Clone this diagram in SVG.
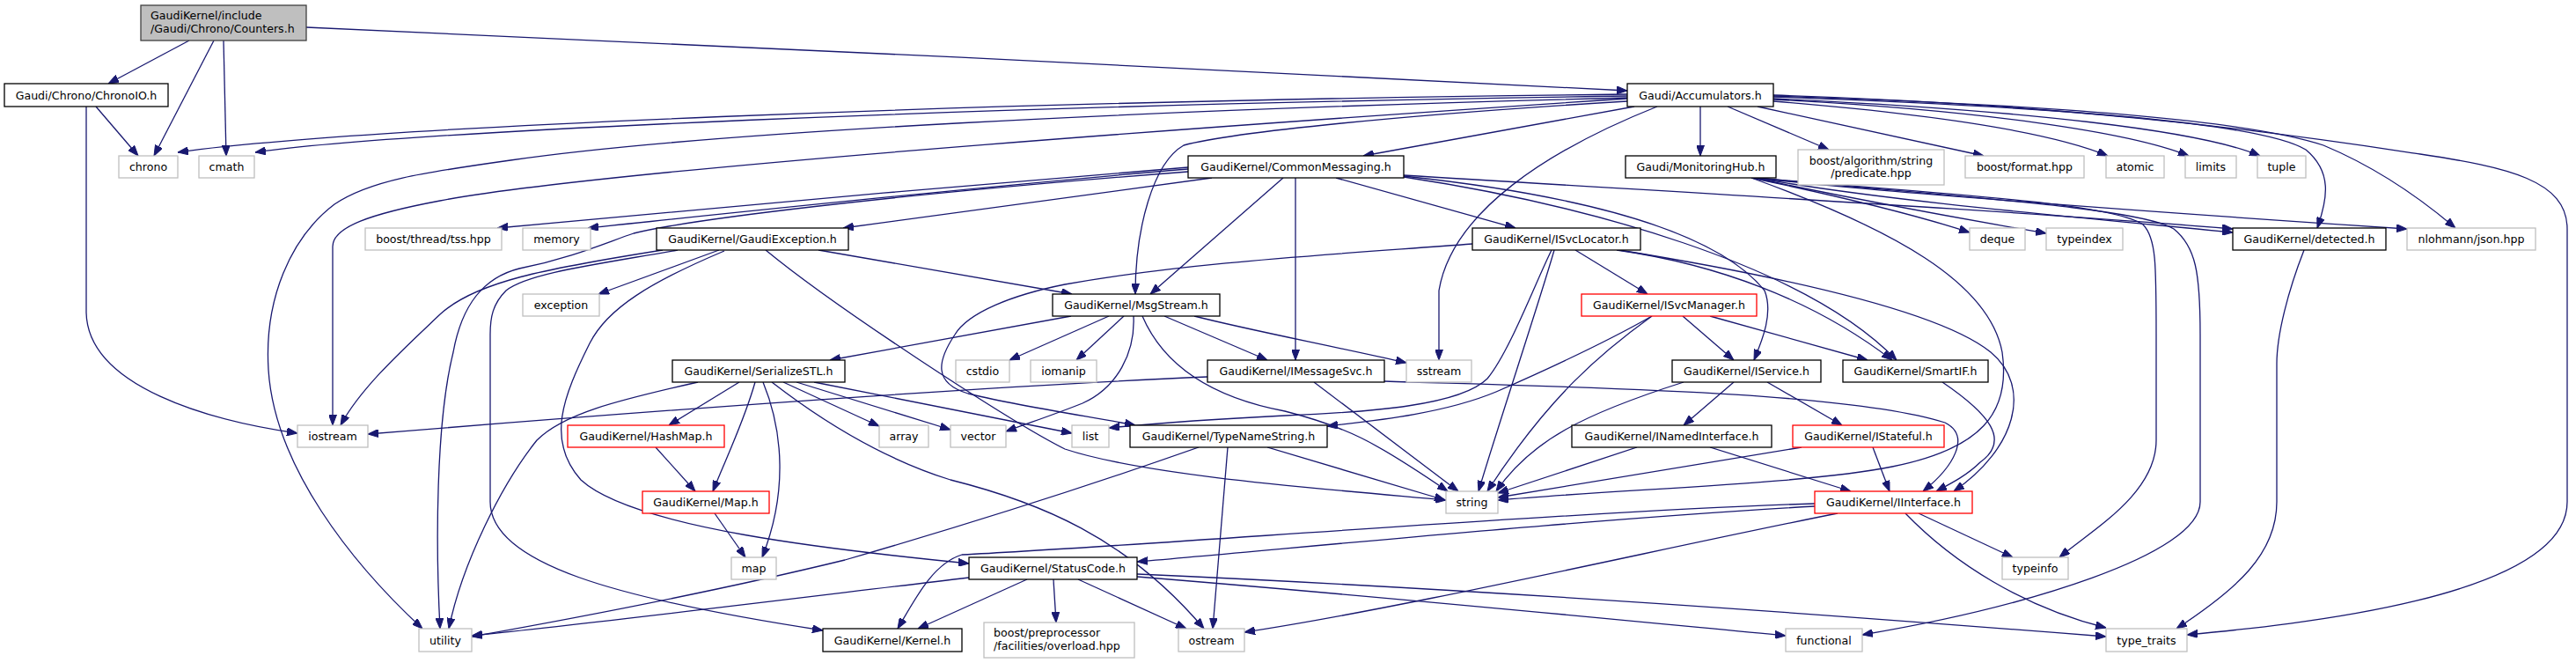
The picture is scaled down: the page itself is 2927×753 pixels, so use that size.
<svg xmlns="http://www.w3.org/2000/svg" width="2927" height="753" viewBox="0 0 2927 753">
<style>
rect{fill:#fff;stroke:#000;stroke-width:1.3}
.x rect{stroke:#bfbfbf}
.r rect{stroke:#ff0000}
.root rect{fill:#bfbfbf;stroke:#404040}
text{font-family:"DejaVu Sans",sans-serif;font-size:12.6px;fill:#000;text-anchor:middle}
text.l{text-anchor:start}
#edges path{fill:none;stroke:#191970;stroke-width:1.3;marker-end:url(#a)}
</style>
<defs>
<marker id="a" viewBox="0 0 12 9" refX="12" refY="4.5" markerWidth="12" markerHeight="9" orient="auto" markerUnits="userSpaceOnUse"><path d="M0,0 L12,4.5 L0,9 z" fill="#191970" stroke="#191970" stroke-width="1"/></marker>
</defs>
<rect x="0" y="0" width="2927" height="753" style="fill:#fff;stroke:none"/>
<g id="edges">
<path d="M215,46 L123,95"/>
<path d="M243,46 L175,177"/>
<path d="M254,46 L257,177"/>
<path d="M348,31 C800,50 1400,80 1849,103"/>
<path d="M109,121 L157,177"/>
<path d="M98,121 L98,355 C100,440 240,478 338,492"/>
<path d="M1849,107 C1100,115 400,145 202,173"/>
<path d="M1849,109 C1100,120 450,150 290,173"/>
<path d="M1849,112 C1500,135 700,190 500,228 C420,243 378,258 378,280 L378,483"/>
<path d="M1849,111 C1300,125 800,150 580,182 C480,196 420,205 380,232 C330,270 300,340 305,420 C312,530 400,640 480,714"/>
<path d="M1857,121 L1549,177"/>
<path d="M1932,121 L1932,177"/>
<path d="M1883,121 C1760,170 1650,240 1635,330 L1635,409"/>
<path d="M1849,115 C1600,130 1400,150 1345,165 C1310,185 1290,260 1290,334"/>
<path d="M1963,121 L2078,170"/>
<path d="M1997,121 L2254,177"/>
<path d="M2015,115 C2200,130 2330,150 2395,177"/>
<path d="M2015,113 C2250,125 2420,150 2487,177"/>
<path d="M2015,112 C2300,125 2500,148 2568,177"/>
<path d="M2015,110 C2350,122 2570,140 2620,170 C2650,195 2645,225 2633,259"/>
<path d="M2015,109 C2300,118 2550,135 2640,165 C2700,190 2750,225 2790,259"/>
<path d="M2015,108 C2400,120 2650,160 2750,175 C2850,190 2917,205 2917,260 L2917,570 C2917,680 2600,710 2485,721"/>
<path d="M1990,202 C2100,225 2180,245 2238,264"/>
<path d="M1992,202 C2150,235 2250,252 2325,265"/>
<path d="M1995,202 C2150,230 2400,250 2537,264"/>
<path d="M1995,202 C2100,215 2400,238 2735,260"/>
<path d="M1995,202 C2200,220 2400,230 2435,255 C2450,270 2450,300 2450,380 L2450,500 C2450,560 2380,600 2340,633"/>
<path d="M1995,202 C2200,222 2430,235 2470,260 C2495,280 2500,310 2500,380 L2500,570 C2500,630 2300,690 2116,721"/>
<path d="M1990,202 C2150,260 2260,320 2275,400 C2285,470 2250,510 2150,530 C2050,550 1850,555 1702,568"/>
<path d="M1350,190 C1100,210 800,237 565,259"/>
<path d="M1350,192 C1100,213 850,240 668,259"/>
<path d="M1350,195 C1000,222 780,250 720,265 C690,275 650,293 590,305 C550,315 525,345 515,400 C495,480 495,620 500,714"/>
<path d="M1377,202 L958,259"/>
<path d="M1458,202 L1307,334"/>
<path d="M1472,202 L1472,409"/>
<path d="M1518,202 L1722,259"/>
<path d="M1595,199 C1900,218 2300,240 2537,260"/>
<path d="M1595,200 C1800,222 1950,262 2005,330 C2015,355 2003,385 1993,409"/>
<path d="M1595,201 C1800,232 2050,300 2155,409"/>
<path d="M817,284 L680,334"/>
<path d="M930,284 L1218,334"/>
<path d="M753,284 C620,305 540,320 500,357 C460,395 410,440 387,483"/>
<path d="M770,284 C680,300 600,310 575,330 C560,345 557,360 557,380 L557,570 C557,640 700,680 935,716"/>
<path d="M823,285 C740,320 690,350 670,390 C640,450 620,500 660,545 C720,600 950,625 1101,640"/>
<path d="M870,284 C950,350 1150,480 1210,510 C1300,540 1500,555 1643,568"/>
<path d="M1790,284 L1872,334"/>
<path d="M1763,284 C1745,320 1715,400 1690,430 C1660,460 1560,468 1460,472 C1380,476 1300,482 1260,486"/>
<path d="M1766,284 C1750,340 1700,490 1680,558"/>
<path d="M1673,277 C1500,290 1350,298 1210,323 C1150,335 1100,355 1085,380 C1065,410 1060,435 1100,447 C1150,460 1250,475 1290,483"/>
<path d="M1837,284 C1950,300 2060,340 2150,409"/>
<path d="M1840,284 C2000,310 2200,350 2262,400 C2310,440 2290,510 2220,558"/>
<path d="M1877,359 C1840,380 1780,410 1700,445 C1640,470 1560,478 1508,484"/>
<path d="M1877,359 C1820,400 1760,450 1690,558"/>
<path d="M1912,359 L1970,409"/>
<path d="M1943,359 L2122,409"/>
<path d="M1217,359 L943,409"/>
<path d="M1260,359 L1147,409"/>
<path d="M1277,359 L1223,409"/>
<path d="M1288,359 C1290,400 1270,440 1230,458 C1200,470 1170,480 1143,490"/>
<path d="M1298,359 C1320,410 1370,450 1460,467 C1530,485 1560,500 1645,558"/>
<path d="M1323,359 L1440,409"/>
<path d="M1357,359 C1420,375 1500,390 1598,412"/>
<path d="M840,434 L760,483"/>
<path d="M858,434 C845,480 825,520 810,558"/>
<path d="M867,434 C890,490 895,560 866,633"/>
<path d="M793,434 C700,455 640,470 610,500 C570,550 525,640 510,714"/>
<path d="M890,434 L999,484"/>
<path d="M905,434 L1080,488"/>
<path d="M925,434 L1218,492"/>
<path d="M877,434 C930,475 1000,520 1080,545 C1180,570 1280,610 1368,714"/>
<path d="M745,508 L790,558"/>
<path d="M812,583 L847,633"/>
<path d="M1372,428 C1100,440 700,470 418,493"/>
<path d="M1493,434 L1657,558"/>
<path d="M1573,433 C1800,440 2100,445 2210,480 C2240,495 2220,530 2185,558"/>
<path d="M1970,434 L1913,483"/>
<path d="M2008,434 L2093,483"/>
<path d="M1913,434 C1800,470 1740,500 1700,558"/>
<path d="M1440,508 L1642,568"/>
<path d="M1395,508 L1378,714"/>
<path d="M1362,508 C1200,565 1050,610 960,636 C800,675 620,708 536,723"/>
<path d="M1943,508 L2103,558"/>
<path d="M1860,508 L1702,560"/>
<path d="M2047,508 L1702,565"/>
<path d="M2128,508 L2147,558"/>
<path d="M2207,434 C2260,470 2285,500 2250,525 C2235,540 2215,550 2200,558"/>
<path d="M2062,575 C1800,590 1500,620 1292,638"/>
<path d="M2062,572 C1800,580 1300,620 1093,630 C1060,640 1040,680 1020,714"/>
<path d="M2088,583 C1900,620 1600,690 1414,718"/>
<path d="M2180,583 L2287,633"/>
<path d="M2165,583 C2220,640 2300,690 2393,713"/>
<path d="M1101,656 C900,680 700,705 536,722"/>
<path d="M1167,658 L1043,714"/>
<path d="M1197,658 L1200,707"/>
<path d="M1225,658 L1348,714"/>
<path d="M1292,655 C1600,680 1850,705 2029,722"/>
<path d="M1292,652 C1700,670 2100,700 2393,723"/>
<path d="M2618,284 C2600,330 2587,380 2587,413 L2587,570 C2587,630 2540,670 2473,714"/>
</g>
<g id="n1" class="root"><rect x="160" y="6" width="188" height="40"/><text class="l" x="171" y="21.5">GaudiKernel/include</text><text class="l" x="171" y="36.5">/Gaudi/Chrono/Counters.h</text></g>
<g id="n2"><rect x="5" y="95" width="186" height="26"/><text x="98" y="112.5">Gaudi/Chrono/ChronoIO.h</text></g>
<g id="n3" class="x"><rect x="135" y="177" width="67" height="25"/><text x="168.5" y="194">chrono</text></g>
<g id="n4" class="x"><rect x="226" y="177" width="63" height="25"/><text x="257.5" y="194">cmath</text></g>
<g id="n5"><rect x="1849" y="95" width="166" height="26"/><text x="1932" y="112.5">Gaudi/Accumulators.h</text></g>
<g id="n6"><rect x="1350" y="177" width="245" height="25"/><text x="1472.5" y="194">GaudiKernel/CommonMessaging.h</text></g>
<g id="n7"><rect x="1847" y="177" width="171" height="25"/><text x="1932.5" y="194">Gaudi/MonitoringHub.h</text></g>
<g id="n8" class="x"><rect x="2043" y="170" width="166" height="40"/><text x="2126" y="187">boost/algorithm/string</text><text x="2126" y="201">/predicate.hpp</text></g>
<g id="n9" class="x"><rect x="2233" y="177" width="135" height="25"/><text x="2300.5" y="194">boost/format.hpp</text></g>
<g id="n10" class="x"><rect x="2393" y="177" width="66" height="25"/><text x="2426" y="194">atomic</text></g>
<g id="n11" class="x"><rect x="2483" y="177" width="58" height="25"/><text x="2512" y="194">limits</text></g>
<g id="n12" class="x"><rect x="2565" y="177" width="55" height="25"/><text x="2592.5" y="194">tuple</text></g>
<g id="n13" class="x"><rect x="415" y="259" width="155" height="25"/><text x="492.5" y="276">boost/thread/tss.hpp</text></g>
<g id="n14" class="x"><rect x="594" y="259" width="77" height="25"/><text x="632.5" y="276">memory</text></g>
<g id="n15"><rect x="746" y="259" width="218" height="25"/><text x="855" y="276">GaudiKernel/GaudiException.h</text></g>
<g id="n16"><rect x="1673" y="259" width="191" height="25"/><text x="1768.5" y="276">GaudiKernel/ISvcLocator.h</text></g>
<g id="n17" class="x"><rect x="2238" y="259" width="63" height="25"/><text x="2269.5" y="276">deque</text></g>
<g id="n18" class="x"><rect x="2325" y="259" width="87" height="25"/><text x="2368.5" y="276">typeindex</text></g>
<g id="n19"><rect x="2537" y="259" width="174" height="25"/><text x="2624" y="276">GaudiKernel/detected.h</text></g>
<g id="n20" class="x"><rect x="2735" y="259" width="146" height="25"/><text x="2808" y="276">nlohmann/json.hpp</text></g>
<g id="n21" class="x"><rect x="594" y="334" width="87" height="25"/><text x="637.5" y="351">exception</text></g>
<g id="n22"><rect x="1196" y="334" width="190" height="25"/><text x="1291" y="351">GaudiKernel/MsgStream.h</text></g>
<g id="n23" class="r"><rect x="1797" y="334" width="199" height="25"/><text x="1896.5" y="351">GaudiKernel/ISvcManager.h</text></g>
<g id="n24"><rect x="764" y="409" width="196" height="25"/><text x="862" y="426">GaudiKernel/SerializeSTL.h</text></g>
<g id="n25" class="x"><rect x="1086" y="409" width="61" height="25"/><text x="1116.5" y="426">cstdio</text></g>
<g id="n26" class="x"><rect x="1171" y="409" width="75" height="25"/><text x="1208.5" y="426">iomanip</text></g>
<g id="n27"><rect x="1372" y="409" width="201" height="25"/><text x="1472.5" y="426">GaudiKernel/IMessageSvc.h</text></g>
<g id="n28" class="x"><rect x="1598" y="409" width="74" height="25"/><text x="1635" y="426">sstream</text></g>
<g id="n29"><rect x="1900" y="409" width="169" height="25"/><text x="1984.5" y="426">GaudiKernel/IService.h</text></g>
<g id="n30"><rect x="2094" y="409" width="165" height="25"/><text x="2176.5" y="426">GaudiKernel/SmartIF.h</text></g>
<g id="n31" class="x"><rect x="338" y="483" width="80" height="25"/><text x="378" y="500">iostream</text></g>
<g id="n32" class="r"><rect x="645" y="483" width="178" height="25"/><text x="734" y="500">GaudiKernel/HashMap.h</text></g>
<g id="n33" class="x"><rect x="999" y="483" width="56" height="25"/><text x="1027" y="500">array</text></g>
<g id="n34" class="x"><rect x="1080" y="483" width="63" height="25"/><text x="1111.5" y="500">vector</text></g>
<g id="n35" class="x"><rect x="1218" y="483" width="42" height="25"/><text x="1239" y="500">list</text></g>
<g id="n36"><rect x="1284" y="483" width="224" height="25"/><text x="1396" y="500">GaudiKernel/TypeNameString.h</text></g>
<g id="n37"><rect x="1786" y="483" width="227" height="25"/><text x="1899.5" y="500">GaudiKernel/INamedInterface.h</text></g>
<g id="n38" class="r"><rect x="2037" y="483" width="172" height="25"/><text x="2123" y="500">GaudiKernel/IStateful.h</text></g>
<g id="n39" class="r"><rect x="730" y="558" width="144" height="25"/><text x="802" y="575">GaudiKernel/Map.h</text></g>
<g id="n40" class="x"><rect x="1643" y="558" width="59" height="25"/><text x="1672.5" y="575">string</text></g>
<g id="n41" class="r"><rect x="2062" y="558" width="179" height="25"/><text x="2151.5" y="575">GaudiKernel/IInterface.h</text></g>
<g id="n42" class="x"><rect x="831" y="633" width="51" height="25"/><text x="856.5" y="650">map</text></g>
<g id="n43"><rect x="1101" y="633" width="191" height="25"/><text x="1196.5" y="650">GaudiKernel/StatusCode.h</text></g>
<g id="n44" class="x"><rect x="2275" y="633" width="75" height="25"/><text x="2312.5" y="650">typeinfo</text></g>
<g id="n45" class="x"><rect x="476" y="714" width="60" height="26"/><text x="506" y="731.5">utility</text></g>
<g id="n46"><rect x="935" y="714" width="158" height="26"/><text x="1014" y="731.5">GaudiKernel/Kernel.h</text></g>
<g id="n47" class="x"><rect x="1118" y="707" width="171" height="40"/><text class="l" x="1129" y="723">boost/preprocessor</text><text class="l" x="1129" y="738">/facilities/overload.hpp</text></g>
<g id="n48" class="x"><rect x="1339" y="714" width="75" height="26"/><text x="1376.5" y="731.5">ostream</text></g>
<g id="n49" class="x"><rect x="2029" y="714" width="87" height="26"/><text x="2072.5" y="731.5">functional</text></g>
<g id="n50" class="x"><rect x="2393" y="714" width="92" height="26"/><text x="2439" y="731.5">type_traits</text></g>
</svg>
